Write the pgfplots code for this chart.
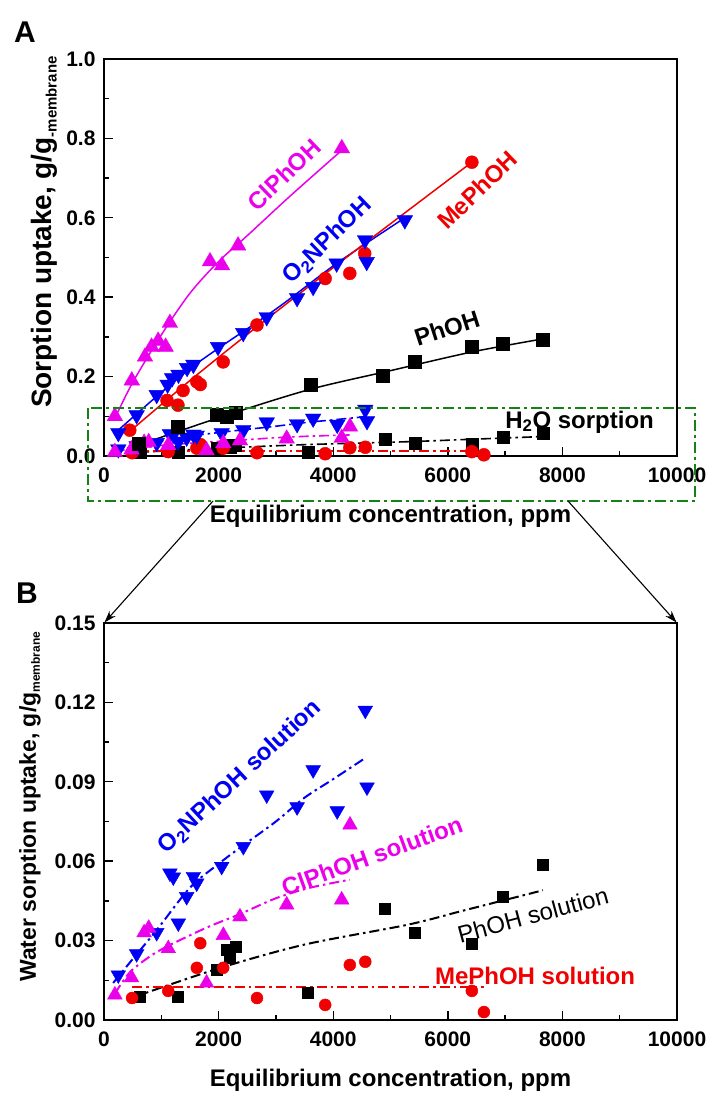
\documentclass[border=0pt]{standalone}
\usepackage{fontspec}
\setmainfont{Liberation Sans}
\usepackage{pgfplots}
\usepackage{pgfplotstable}
\pgfplotsset{compat=1.18}
\usetikzlibrary{arrows.meta}

\definecolor{cmag}{RGB}{235,0,235}
\definecolor{cblue}{RGB}{0,0,245}
\definecolor{cred}{RGB}{240,0,0}
\definecolor{cgreen}{RGB}{20,130,20}

% ---------------- Panel A: organic uptake ----------------
\pgfplotstableread{
x y
190 0.100
485 0.190
715 0.250
830 0.275
945 0.290
1075 0.275
1150 0.335
1850 0.490
2060 0.480
2340 0.530
4150 0.775
}\ClA
\pgfplotstableread{
x y
190 0.095
500 0.185
1000 0.305
1500 0.410
2000 0.490
2500 0.555
3250 0.655
4150 0.770
}\ClAfit
\pgfplotstableread{
x y
250 0.058
570 0.103
920 0.154
1110 0.180
1190 0.196
1300 0.205
1450 0.222
1560 0.230
1990 0.275
2430 0.310
2840 0.350
3370 0.398
3650 0.426
4060 0.485
4555 0.544
4585 0.489
5250 0.594
}\OnA
\pgfplotstableread{
x y
250 0.065
1500 0.220
3000 0.370
4060 0.485
5250 0.600
}\OnAfit
\pgfplotstableread{
x y
450 0.065
1100 0.140
1290 0.128
1380 0.165
1620 0.187
1680 0.180
2080 0.237
2670 0.330
3860 0.447
4290 0.460
4550 0.510
6420 0.740
}\MeA
\pgfplotstableread{
x y
450 0.062
1500 0.190
2665 0.325
4500 0.530
6420 0.740
}\MeAfit
\pgfplotstableread{
x y
600 0.030
1290 0.073
1970 0.103
2150 0.100
2290 0.108
3600 0.180
4870 0.203
5430 0.237
6420 0.275
6960 0.284
7660 0.292
}\PhA
\pgfplotstableread{
x y
510 0.023
2080 0.100
3600 0.168
5000 0.215
6420 0.262
7660 0.295
}\PhAfit

% ---------------- Water sorption (Panel B, also bottom of A) ----------------
\pgfplotstableread{
x y
250 0.017
570 0.025
920 0.033
1150 0.0555
1210 0.054
1297 0.0366
1443 0.0466
1560 0.0542
1618 0.0517
2054 0.058
2432 0.0655
2840 0.085
3370 0.0805
3650 0.0945
4070 0.079
4560 0.117
4590 0.088
}\OnW
\pgfplotstableread{
x y
160 0.014
500 0.023
920 0.034
1500 0.050
2000 0.059
2430 0.066
3000 0.075
3500 0.084
4000 0.091
4560 0.099
}\OnWfit
\pgfplotstableread{
x y
190 0.0095
480 0.016
700 0.033
780 0.0347
1122 0.027
1790 0.014
2083 0.032
2373 0.039
3188 0.0435
4148 0.0454
4293 0.0737
}\ClW
\pgfplotstableread{
x y
190 0.010
450 0.018
800 0.024
1120 0.028
1800 0.035
2370 0.040
3000 0.046
3600 0.050
4290 0.053
}\ClWfit
\pgfplotstableread{
x y
630 0.0087
1290 0.0087
1970 0.019
2150 0.0265
2200 0.0234
2290 0.0277
3560 0.0102
4900 0.042
5430 0.033
6420 0.029
6960 0.0465
7660 0.0586
}\PhW
\pgfplotstableread{
x y
500 0.0085
2000 0.0195
3500 0.0285
5300 0.0360
6300 0.0415
7660 0.0490
}\PhWfit
\pgfplotstableread{
x y
490 0.0083
1120 0.011
1620 0.0197
1680 0.029
2080 0.0197
2670 0.0083
3860 0.0057
4290 0.0208
4560 0.022
6420 0.011
6630 0.003
}\MeW
\pgfplotstableread{
x y
490 0.0125
6630 0.0125
}\MeWfit

\tikzset{
  dashdot/.style={dash pattern=on 10pt off 4pt on 2.5pt off 4pt},
  ann/.style={font=\bfseries\fontsize{24}{24}\selectfont, inner sep=0pt},
}

\pgfplotsset{
  panel/.style={
    scale only axis, width=573pt, height=397pt,
    xmin=0, xmax=10000, xtick={0,2000,4000,6000,8000,10000},
    scaled x ticks=false, scaled y ticks=false,
    minor x tick num=1, minor y tick num=1,
    tick align=inside, xtick pos=bottom, ytick pos=left,
    major tick length=9pt, minor tick length=5pt,
    axis line style={line width=1.6pt},
    tick style={line width=1.4pt, black},
    minor tick style={line width=1.4pt, black},
    /pgf/number format/assume math mode=true,
    ticklabel style={font=\bfseries\fontsize{21}{21}\selectfont},
    x tick label style={yshift=-8pt, /pgf/number format/1000 sep={}},
    y tick label style={xshift=-5pt},
    label style={font=\bfseries\fontsize{24}{26}\selectfont},
    xlabel={Equilibrium concentration, ppm},
    xlabel style={at={(axis description cs:0.5,-0.152)}, anchor=center},
    clip mode=individual,
  },
}

\begin{document}
\begin{tikzpicture}[x=1pt,y=1pt]
\useasboundingbox (0,0) rectangle (709,1095);

% ================= Panel A =================
\begin{axis}[panel, at={(104pt,639pt)}, anchor=south west,
  ymin=0, ymax=1, ytick={0,0.2,0.4,0.6,0.8,1.0},
  yticklabel style={/pgf/number format/fixed, /pgf/number format/fixed zerofill, /pgf/number format/precision=1},
  ylabel={Sorption uptake, g/g\raisebox{-5pt}{\fontsize{15}{15}\selectfont -membrane}},
  ylabel style={at={(axis description cs:-0.104,0.564)}, anchor=center, font=\bfseries\fontsize{28}{30}\selectfont},
]
% water (dash-dot) fits
\addplot[cblue, line width=1.6pt, dashdot, smooth] table {\OnWfit};
\addplot[cmag, line width=1.6pt, dashdot, smooth] table {\ClWfit};
\addplot[black, line width=1.6pt, dashdot, smooth] table {\PhWfit};
\addplot[cred, line width=1.6pt, dashdot] table {\MeWfit};
% organic fits
\addplot[cmag, line width=1.5pt, smooth] table {\ClAfit};
\addplot[cblue, line width=1.5pt, smooth] table {\OnAfit};
\addplot[cred, line width=1.5pt, smooth] table {\MeAfit};
\addplot[black, line width=1.5pt, smooth] table {\PhAfit};
% water marks
\addplot[only marks, mark=square*, mark size=6pt, black] table {\PhW};
\addplot[only marks, mark=*, mark size=6.5pt, cred] table {\MeW};
\addplot[only marks, mark=triangle*, mark size=9pt, cblue, mark options={rotate=180}] table {\OnW};
\addplot[only marks, mark=triangle*, mark size=9pt, cmag] table {\ClW};
% organic marks
\addplot[only marks, mark=square*, mark size=6.5pt, black] table {\PhA};
\addplot[only marks, mark=*, mark size=6.5pt, cred] table {\MeA};
\addplot[only marks, mark=triangle*, mark size=9pt, cblue, mark options={rotate=180}] table {\OnA};
\addplot[only marks, mark=triangle*, mark size=9pt, cmag] table {\ClA};
% annotations
\node[ann, text=cmag, rotate=44] at (axis cs:3141,0.708) {ClPhOH};
\node[ann, text=cblue, rotate=44] at (axis cs:3897,0.542) {O\textsubscript{2}NPhOH};
\node[ann, text=cred, rotate=44] at (axis cs:6516,0.670) {MePhOH};
\node[ann, text=black, rotate=18] at (axis cs:5986,0.322) {PhOH};
\node[ann, text=black] at (axis cs:8300,0.086) {H\textsubscript{2}O sorption};
\end{axis}

% ================= Panel B =================
\begin{axis}[panel, at={(104pt,75pt)}, anchor=south west,
  ymin=0, ymax=0.15, ytick={0,0.03,0.06,0.09,0.12,0.15},
  yticklabel style={/pgf/number format/fixed, /pgf/number format/fixed zerofill, /pgf/number format/precision=2},
  ylabel={Water sorption uptake, g/g\raisebox{-4pt}{\fontsize{12}{12}\selectfont membrane}},
  ylabel style={at={(axis description cs:-0.129,0.537)}, anchor=center, font=\bfseries\fontsize{23}{25}\selectfont},
]
\addplot[cblue, line width=2pt, dashdot, smooth] table {\OnWfit};
\addplot[cmag, line width=2pt, dashdot, smooth] table {\ClWfit};
\addplot[black, line width=2pt, dashdot, smooth] table {\PhWfit};
\addplot[cred, line width=2pt, dashdot] table {\MeWfit};
\addplot[only marks, mark=square*, mark size=5.5pt, black] table {\PhW};
\addplot[only marks, mark=*, mark size=6pt, cred] table {\MeW};
\addplot[only marks, mark=triangle*, mark size=8.5pt, cblue, mark options={rotate=180}] table {\OnW};
\addplot[only marks, mark=triangle*, mark size=8.5pt, cmag] table {\ClW};
\node[ann, text=cblue, rotate=43] at (axis cs:2373,0.0919) {O\textsubscript{2}NPhOH solution};
\node[ann, text=cmag, rotate=20] at (axis cs:4677,0.0620) {ClPhOH solution};
\node[font=\fontsize{24}{24}\selectfont, inner sep=0pt, text=black, rotate=15] at (axis cs:7487,0.0397) {PhOH solution};
\node[ann, text=cred] at (axis cs:7522,0.0166) {MePhOH solution};
\end{axis}

% zoom box and arrows
\draw[cgreen, line width=2pt, dash pattern=on 11pt off 4pt on 3pt off 4pt] (88,687) rectangle (695,594);
\draw[black, line width=1.1pt, -{Stealth[length=12pt,width=8pt]}] (213,594) -- (104.5,472.5);
\draw[black, line width=1.1pt, -{Stealth[length=12pt,width=8pt]}] (568,594) -- (676.5,472.5);

% panel letters
\node[font=\bfseries\fontsize{30}{30}\selectfont] at (25,1063) {A};
\node[font=\bfseries\fontsize{30}{30}\selectfont] at (27,502) {B};
\end{tikzpicture}
\end{document}
